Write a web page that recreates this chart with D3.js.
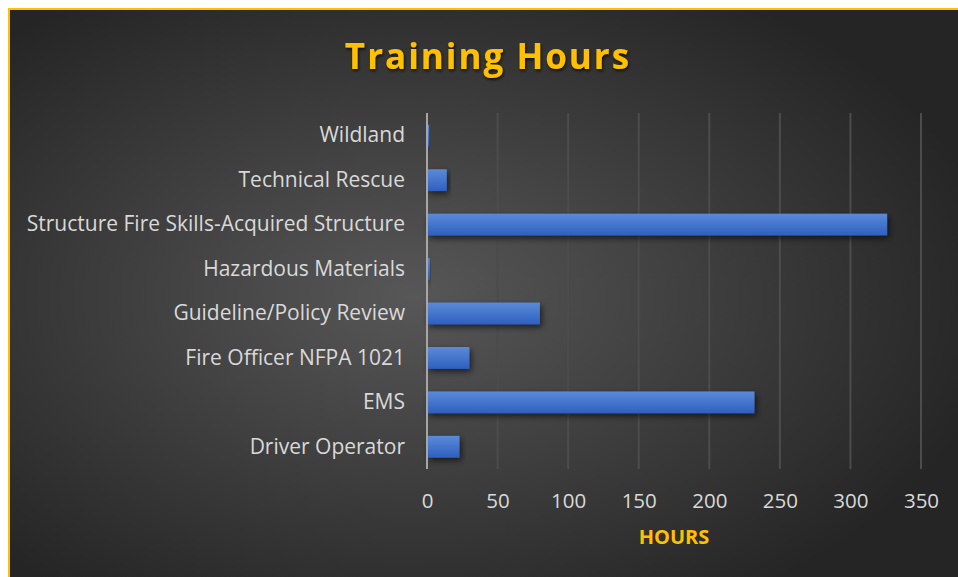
<!DOCTYPE html>
<html lang="en">
<head>
    <meta charset="UTF-8">
    <title>Training Hours</title>
    <script src="https://cdn.jsdelivr.net/npm/d3@7"></script>
    <style>
        body { margin: 0; background: #fff; }
        svg { display: block; }
    </style>
</head>
<body>
<script>
    const width = 958, height = 577;

    const categories = ['Wildland', 'Technical Rescue', 'Structure Fire Skills-Acquired Structure',
        'Hazardous Materials', 'Guideline/Policy Review', 'Fire Officer NFPA 1021', 'EMS', 'Driver Operator'];
    const hours = [1.5, 14, 326, 2, 80, 30, 232, 23];
    const ticks = [0, 50, 100, 150, 200, 250, 300, 350];

    const svg = d3.select('body').append('svg')
        .attr('width', width)
        .attr('height', height);

    const defs = svg.append('defs');

    // background
    const bg = defs.append('radialGradient').attr('id', 'bg')
        .attr('cx', '42%').attr('cy', '50%').attr('r', '62%');
    bg.append('stop').attr('offset', '0%').attr('stop-color', '#575757');
    bg.append('stop').attr('offset', '100%').attr('stop-color', '#252525');

    const barGrad = defs.append('linearGradient').attr('id', 'bar')
        .attr('x1', 0).attr('y1', 0).attr('x2', 0).attr('y2', 1);
    barGrad.append('stop').attr('offset', '0%').attr('stop-color', '#5b8ad8');
    barGrad.append('stop').attr('offset', '100%').attr('stop-color', '#2e60c0');

    const shadow = defs.append('filter').attr('id', 'shadow')
        .attr('x', '-10%').attr('y', '-30%').attr('width', '130%').attr('height', '200%');
    shadow.append('feDropShadow').attr('dx', 2).attr('dy', 3).attr('stdDeviation', 3)
        .attr('flood-color', '#000').attr('flood-opacity', 0.6);

    const tshadow = defs.append('filter').attr('id', 'tshadow');
    tshadow.append('feDropShadow').attr('dx', 1).attr('dy', 2).attr('stdDeviation', 1.5)
        .attr('flood-color', '#000').attr('flood-opacity', 0.7);

    svg.append('rect').attr('x', 9).attr('y', 9)
        .attr('width', width).attr('height', height)
        .attr('fill', 'url(#bg)');
    // yellow frame on top and left
    svg.append('path').attr('d', `M9,${height} V9 H${width}`)
        .attr('fill', 'none').attr('stroke', '#ffc000').attr('stroke-width', 2);

    // scales
    const x = d3.scaleLinear().domain([0, 350]).range([427, 921]);
    const y = d3.scaleBand().domain(categories).range([113.5, 469])
        .paddingInner(0.51).paddingOuter(0.255);

    // gridlines
    svg.append('g').selectAll('line')
        .data(ticks.slice(1))
        .enter().append('line')
        .attr('x1', d => x(d)).attr('x2', d => x(d))
        .attr('y1', 113).attr('y2', 469)
        .attr('stroke', '#4c4c4c').attr('stroke-width', 2);

    // bars
    svg.append('g').selectAll('rect')
        .data(hours)
        .enter().append('rect')
        .attr('x', x(0))
        .attr('y', (d, i) => y(categories[i]))
        .attr('width', d => x(d) - x(0))
        .attr('height', y.bandwidth())
        .attr('fill', 'url(#bar)')
        .attr('filter', 'url(#shadow)');

    // zero axis line
    svg.append('line')
        .attr('x1', x(0)).attr('x2', x(0))
        .attr('y1', 113).attr('y2', 469)
        .attr('stroke', '#a6a6a6').attr('stroke-width', 2);

    // category labels
    const yAxis = d3.axisLeft(y).tickSize(0).tickPadding(0);
    const gy = svg.append('g').attr('transform', 'translate(405,0)').call(yAxis);
    gy.select('.domain').remove();
    gy.selectAll('text')
        .attr('fill', '#d9d9d9')
        .style('font-family', '"Open Sans", sans-serif')
        .style('font-size', '21px');

    // value ticks
    const xAxis = d3.axisBottom(x).tickValues(ticks).tickSize(0).tickPadding(0);
    const gx = svg.append('g').attr('transform', 'translate(0,493)').call(xAxis);
    gx.select('.domain').remove();
    gx.selectAll('text')
        .attr('fill', '#d9d9d9')
        .style('font-family', '"Open Sans", sans-serif')
        .style('font-size', '20.5px');

    // axis title
    svg.append('text')
        .attr('x', 674).attr('y', 544)
        .attr('text-anchor', 'middle')
        .attr('fill', '#ffc000')
        .style('font-family', '"Open Sans", sans-serif')
        .style('font-weight', 'bold')
        .style('font-size', '20px')
        .text('HOURS');

    // title
    svg.append('text')
        .attr('x', 488).attr('y', 69)
        .attr('text-anchor', 'middle')
        .attr('fill', '#ffc000')
        .attr('filter', 'url(#tshadow)')
        .style('font-family', '"Open Sans", sans-serif')
        .style('font-weight', 'bold')
        .style('font-size', '35px')
        .style('letter-spacing', '2px')
        .text('Training Hours');
</script>
</body>
</html>
